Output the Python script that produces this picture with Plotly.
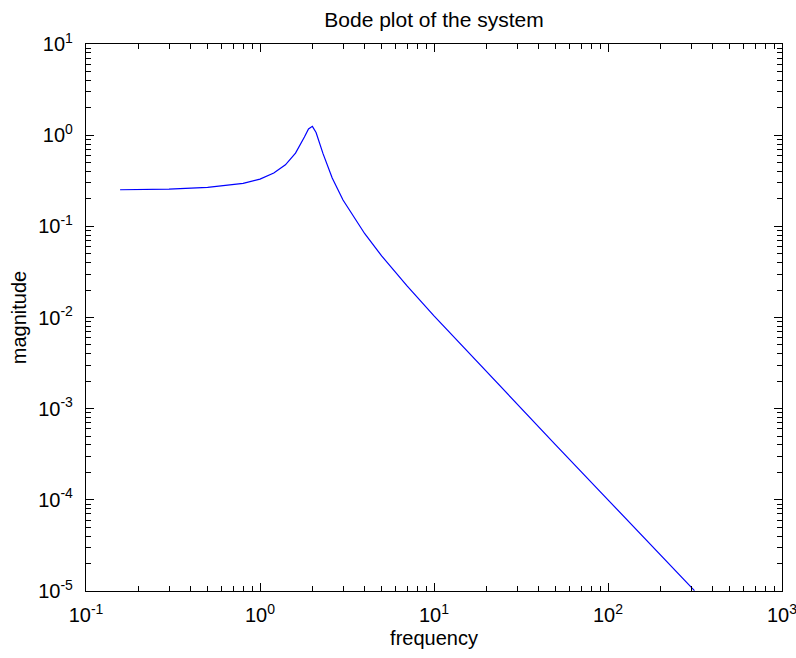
import plotly.graph_objects as go

# frequency samples (rad/s)
frequency = [0.157, 0.3, 0.5, 0.8, 1.0, 1.2, 1.4, 1.6, 1.8, 1.9, 2.0, 2.1, 2.3, 2.6,
             3.0, 4.0, 5.0, 7.0, 10.0, 20.0, 50.0, 100.0, 200.0, 314.0]
# magnitude values
magnitude = [0.252, 0.256, 0.267, 0.296, 0.330, 0.384, 0.473, 0.635, 0.955, 1.17, 1.25,
             1.07, 0.631, 0.339, 0.1945, 0.083, 0.0474, 0.0222, 0.0104, 0.00253,
             0.000401, 0.0001, 0.000025, 0.0000101]

x_decades = [-1, 0, 1, 2, 3]
y_decades = [-5, -4, -3, -2, -1, 0, 1]

def dec_label(p):
    return "10<sup>%d</sup>" % p

def minor_vals(decs):
    out = []
    for d in decs[:-1]:
        for m in range(2, 10):
            out.append(m * 10.0 ** d)
    return out

FONT = "Liberation Sans, Arial, sans-serif"

fig = go.Figure()
fig.add_trace(go.Scatter(x=frequency, y=magnitude, mode="lines",
                         line=dict(color="#0000ff", width=1.2), showlegend=False))

axis_common = dict(
    showline=True, linecolor="black", linewidth=1.3, mirror="ticks",
    ticks="inside", ticklen=8, tickwidth=1.3, tickcolor="black",
    showgrid=False, zeroline=False, automargin=False,
    ticklabeloverflow="allow",
    tickfont=dict(family=FONT, size=20, color="black"),
)

fig.update_xaxes(type="log", range=[-1, 3], tickmode="array",
                 tickvals=[10.0 ** p for p in x_decades],
                 ticktext=[dec_label(p) for p in x_decades],
                 ticklabelstandoff=6,
                 minor=dict(ticks="inside", ticklen=5, tickwidth=1.3, tickcolor="black",
                            tickmode="array", tickvals=minor_vals(x_decades), showgrid=False),
                 title=dict(text="frequency", font=dict(family=FONT, size=20, color="black"),
                            standoff=5),
                 **axis_common)
fig.update_yaxes(type="log", range=[-5, 1], tickmode="array",
                 tickvals=[10.0 ** p for p in y_decades],
                 ticktext=[dec_label(p) for p in y_decades],
                 ticklabelstandoff=8,
                 minor=dict(ticks="inside", ticklen=5, tickwidth=1.3, tickcolor="black",
                            tickmode="array", tickvals=minor_vals(y_decades), showgrid=False),
                 title=dict(text="magnitude", font=dict(family=FONT, size=20, color="black"),
                            standoff=6),
                 **axis_common)

fig.update_layout(
    width=796, height=658,
    margin=dict(l=86, r=14, t=44, b=67, autoexpand=False),
    paper_bgcolor="white", plot_bgcolor="white",
    title=dict(text="Bode plot of the system", x=434 / 796, xanchor="center",
               y=1 - 20 / 658, yanchor="middle", yref="container",
               font=dict(family=FONT, size=21, color="black")),
)

fig.write_html("out.html", config={"displayModeBar": False})

# remove the browser's default page margin so the figure sits at the window origin
with open("out.html", "r", encoding="utf-8") as f:
    html = f.read()
html = html.replace("<head>", "<head><style>html,body{margin:0;padding:0;overflow:hidden;}</style>", 1)
with open("out.html", "w", encoding="utf-8") as f:
    f.write(html)
